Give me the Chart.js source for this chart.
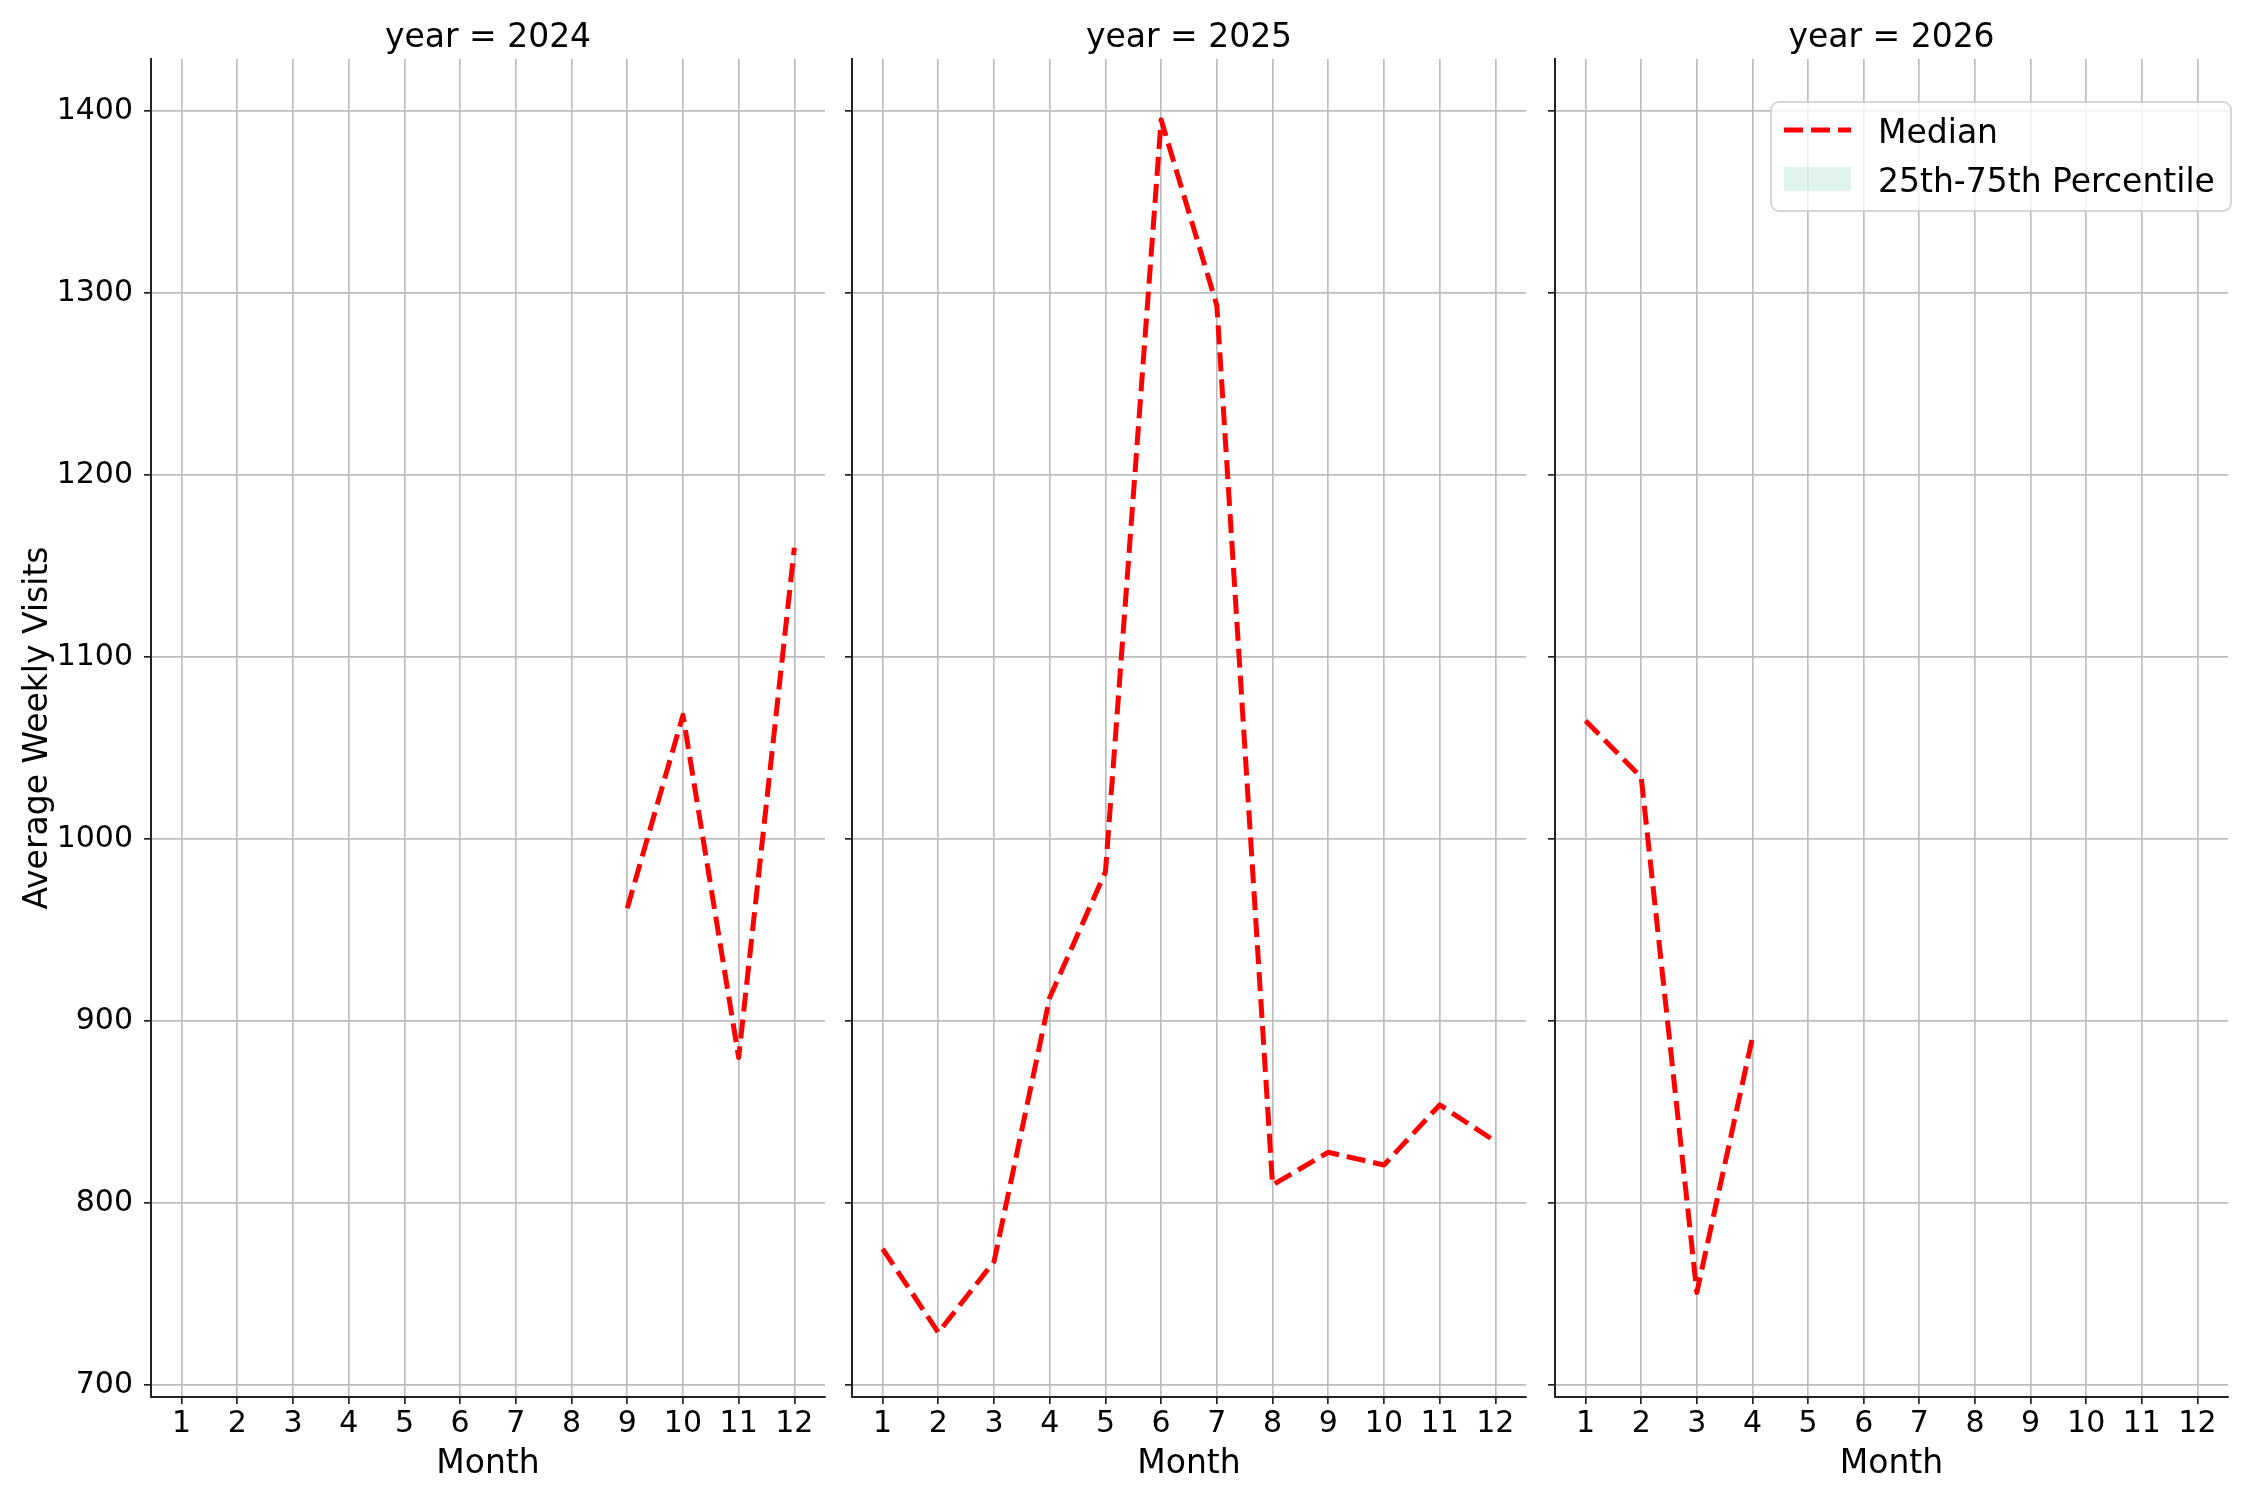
<!DOCTYPE html>
<html>
<head>
<meta charset="utf-8">
<script src="https://cdn.jsdelivr.net/npm/chart.js@4.4.1/dist/chart.umd.min.js"></script>
<style>
  html, body { margin: 0; padding: 0; background: #fff; }
  #wrap { position: relative; width: 2250px; height: 1500px; }
  .panel { position: absolute; top: 0; height: 1500px; }
</style>
</head>
<body>
<div id="wrap">
  <div class="panel" style="left:0;width:840px"><canvas id="c2024"></canvas></div>
  <div class="panel" style="left:832px;width:709px"><canvas id="c2025"></canvas></div>
  <div class="panel" style="left:1535px;width:715px"><canvas id="c2026"></canvas></div>
</div>
<script>
// data
const months = [1, 2, 3, 4, 5, 6, 7, 8, 9, 10, 11, 12];
const yTicks = [700, 800, 900, 1000, 1100, 1200, 1300, 1400];
const years = [2024, 2025, 2026];
const median2024 = [null, null, null, null, null, null, null, null, 962, 1068, 880, 1160];
const median2025 = [775, 729, 768, 913, 982, 1395, 1293, 810, 828, 821, 854, 834];
const median2026 = [1065, 1034, 751, 891, null, null, null, null, null, null, null, null];
// the percentile band has no visible values in the picture
const band2024 = [];
const band2025 = [];
const band2026 = [];
const medianLabel = 'Median';
const bandLabel = '25th-75th Percentile';

const FONT = "'DejaVu Sans', sans-serif";
const GRID = '#bdbdbd';
const SPINE = '#222';

// matplotlib-style legend box drawn inside the plot area
const legendBox = {
  id: 'legendBox',
  afterDraw(chart) {
    const ctx = chart.ctx;
    const a = chart.chartArea;
    const w = 460, h = 109;
    const x = a.right + 3 - w, y = a.top + 43;
    ctx.save();
    ctx.beginPath();
    ctx.roundRect(x, y, w, h, 8);
    ctx.fillStyle = 'rgba(255,255,255,0.8)';
    ctx.fill();
    ctx.lineWidth = 2;
    ctx.strokeStyle = 'rgba(204,204,204,0.8)';
    ctx.stroke();

    const ds = chart.data.datasets;
    // median line sample
    const cy = y + 28;
    ctx.beginPath();
    ctx.setLineDash(ds[0].borderDash);
    ctx.lineWidth = ds[0].borderWidth;
    ctx.strokeStyle = ds[0].borderColor;
    ctx.moveTo(x + 13, cy);
    ctx.lineTo(x + 80, cy);
    ctx.stroke();
    ctx.setLineDash([]);
    // band patch
    const cy2 = y + 77;
    ctx.fillStyle = ds[1].backgroundColor;
    ctx.fillRect(x + 13, cy2 - 12, 67, 24);

    ctx.fillStyle = '#000';
    ctx.font = '33px ' + FONT;
    ctx.textBaseline = 'middle';
    ctx.textAlign = 'left';
    ctx.fillText(ds[0].label, x + 107, cy + 4);
    ctx.fillText(ds[1].label, x + 107, cy2 + 4);
    ctx.restore();
  }
};

function makePanel(id, year, median, band, yWidth, padRight, first, withLegend) {
  const ctx = document.getElementById(id);
  new Chart(ctx, {
    type: 'line',
    data: {
      labels: months,
      datasets: [
        {
          label: medianLabel,
          data: median,
          borderColor: '#ff0000',
          borderWidth: 5,
          borderDash: [19, 8],
          borderCapStyle: 'butt',
          borderJoinStyle: 'round',
          pointRadius: 0,
          fill: false,
          tension: 0,
          spanGaps: false
        },
        {
          label: bandLabel,
          data: band,
          backgroundColor: 'rgba(102,194,165,0.2)',
          borderWidth: 0,
          pointRadius: 0,
          fill: false
        }
      ]
    },
    options: {
      responsive: true,
      maintainAspectRatio: false,
      animation: false,
      layout: { padding: { left: 0, right: padRight, top: 0, bottom: 0 } },
      plugins: {
        legend: { display: false },
        tooltip: { enabled: false },
        title: {
          display: true,
          text: 'year = ' + year,
          fullSize: false,
          color: '#000',
          font: { family: FONT, size: 33, weight: 'normal' },
          padding: { top: 19, bottom: 0.4 }
        }
      },
      scales: {
        x: {
          type: 'linear',
          min: 0.45,
          max: 12.55,
          afterBuildTicks: s => { s.ticks = months.map(v => ({ value: v })); },
          afterFit: s => { s.height = 103; },
          ticks: {
            color: '#000',
            font: { family: FONT, size: 30 },
            padding: 2,
            maxRotation: 0,
            autoSkip: false,
            callback: v => String(v)
          },
          grid: { color: GRID, lineWidth: 1.7, tickLength: 7, tickColor: SPINE, tickWidth: 1.7 },
          border: { color: SPINE, width: 2 },
          title: {
            display: true,
            text: 'Month',
            color: '#000',
            font: { family: FONT, size: 33 },
            padding: { top: 0, bottom: 16 }
          }
        },
        y: {
          min: 693.6,
          max: 1428.4,
          afterBuildTicks: s => { s.ticks = yTicks.map(v => ({ value: v })); },
          afterFit: s => { s.width = yWidth; },
          ticks: {
            display: first,
            color: '#000',
            font: { family: FONT, size: 30 },
            padding: 11,
            callback: v => String(v)
          },
          grid: { color: GRID, lineWidth: 1.7, tickLength: 7, tickColor: SPINE, tickWidth: 1.7 },
          border: { color: SPINE, width: 2 },
          title: {
            display: first,
            text: 'Average Weekly Visits',
            color: '#000',
            font: { family: FONT, size: 33 },
            padding: { top: 19, bottom: 0 }
          }
        }
      }
    },
    plugins: withLegend ? [legendBox] : []
  });
}

makePanel('c2024', years[0], median2024, band2024, 151, 15, true, false);
makePanel('c2025', years[1], median2025, band2025, 20, 15, false, false);
makePanel('c2026', years[2], median2026, band2026, 20, 22, false, true);
</script>
</body>
</html>
